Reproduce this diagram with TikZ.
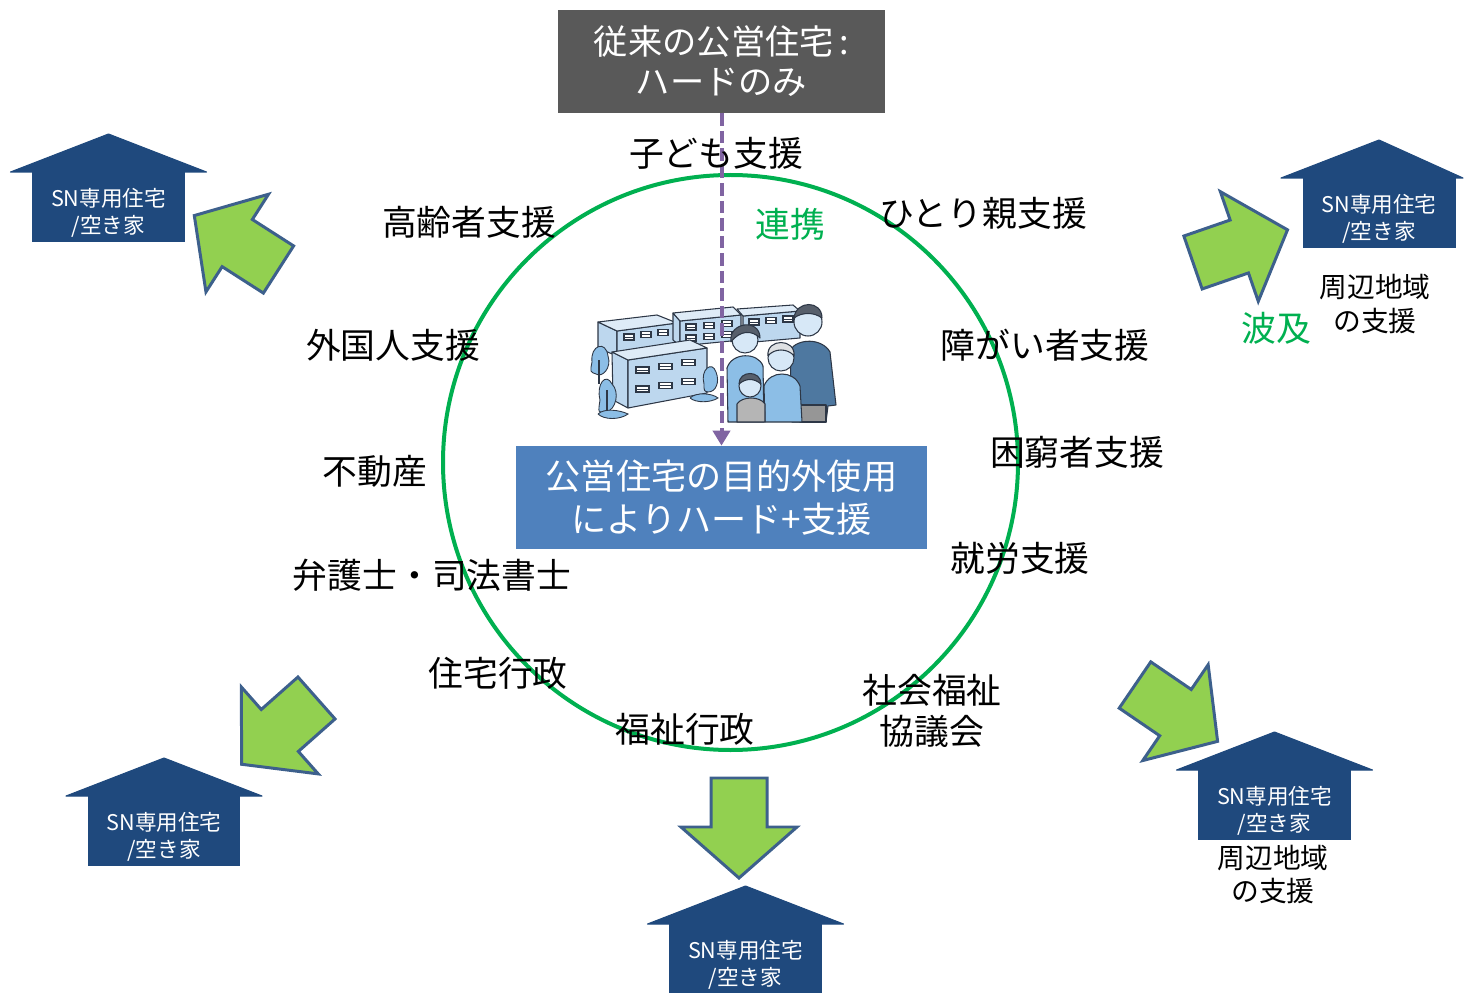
\documentclass[tikz,border=0pt]{standalone}
\usepackage{fontspec}
\setmainfont{Noto Sans CJK JP}
\usetikzlibrary{arrows.meta}

\definecolor{houseblue}{RGB}{31,73,125}
\definecolor{boxgray}{RGB}{89,89,89}
\definecolor{boxblue}{RGB}{79,129,189}
\definecolor{ringgreen}{RGB}{0,176,80}
\definecolor{arrowfill}{RGB}{146,208,80}
\definecolor{arrowline}{RGB}{61,96,140}
\definecolor{linkpurple}{RGB}{128,100,162}
\definecolor{bldfill}{RGB}{189,215,238}
\definecolor{bldtop}{RGB}{222,235,247}
\definecolor{bldline}{RGB}{45,55,70}
\definecolor{shirtdark}{RGB}{78,120,160}
\definecolor{shirtlight}{RGB}{140,190,230}
\definecolor{skin}{RGB}{215,232,247}
\definecolor{pantsgray}{RGB}{150,150,150}

\tikzset{
  lbl/.style={inner sep=0pt, align=center, font=\fontsize{19.8pt}{23.3pt}\selectfont},
  greenlbl/.style={lbl, text=ringgreen},
  smalllbl/.style={inner sep=0pt, align=center, font=\fontsize{15.8pt}{19.3pt}\selectfont},
  housebody/.style={fill=houseblue, inner sep=0pt,
    minimum width=3.06cm, minimum height=1.4cm},
  housetext/.style={text=white, inner sep=0pt, align=center,
    font=\fontsize{12.3pt}{15.3pt}\selectfont},
  roof/.style={fill=houseblue, draw=houseblue, line width=0.6pt, line join=round},
  blockarrow/.style={fill=arrowfill, draw=arrowline, line width=1.7pt, line join=miter},
  pics/bigarrow/.style={code={
    \draw[blockarrow] (0,-28) -- (49,-28) -- (49,-58) -- (100,0) -- (49,58)
      -- (49,28) -- (0,28) -- cycle;}},
  bld/.style={fill=bldfill, draw=bldline, line width=0.6pt, line join=round},
  bldroof/.style={fill=bldtop, draw=bldline, line width=0.6pt, line join=round},
  win/.style={fill=white, draw=bldline, line width=0.6pt},
  tree/.style={fill=shirtlight, draw=bldline, line width=0.5pt},
  person/.style={draw=bldline, line width=0.6pt, line join=round},
}

% house: name, body centre x, eaves y, left overhang, right overhang
\newcommand{\snhouse}[5]{%
  \draw[roof] (#2-#4,#3) -- (#2,#3-38) -- (#2+#5,#3) -- cycle;
  \node[housebody] (#1) at (#2,#3+35) {};
  \node[housetext] (#1-txt) at (#2,#3+41) {SN専用住宅\\/空き家};
}
% two-pane window
\newcommand{\pane}[3]{%
  \draw[win] (#1,#2) rectangle ++(#3,6);
  \draw[bldline, line width=0.5pt] (#1,#2+3) -- ++(#3,0);
}

\begin{document}
\begin{tikzpicture}[x=0.02cm, y=-0.02cm]
\useasboundingbox (0,0) rectangle (1471,993);

% ring of partners
\draw[ringgreen, line width=0.08cm] (730.5,462.5) circle [radius=287.5];

% ---------- buildings ----------
% back left block
\draw[bld] (598,322) -- (617,331) -- (617,356) -- (598,348) -- cycle;
\draw[bld] (617,331) -- (677,323) -- (677,348) -- (617,356) -- cycle;
\draw[bldroof] (598,322) -- (657,315) -- (677,323) -- (617,331) -- cycle;
\foreach \i in {0,1,2} \pane{624+\i*17}{334-\i*2.2}{10};
% middle block
\draw[bld] (673,313) -- (680,321) -- (680,346) -- (673,340) -- cycle;
\draw[bld] (680,321) -- (741,315) -- (741,340) -- (680,346) -- cycle;
\draw[bldroof] (673,313) -- (733,307) -- (741,315) -- (680,321) -- cycle;
\foreach \i in {0,1,2} {
  \pane{686+\i*18}{324-\i*1.8}{10}
  \pane{686+\i*18}{335-\i*1.8}{10}}
% right block
\draw[bld] (743,316) -- (800,311) -- (800,338) -- (743,343) -- cycle;
\draw[bldroof] (737,309) -- (793,305) -- (800,311) -- (743,316) -- cycle;
\foreach \i in {0,1,2} \pane{749+\i*17}{319-\i*1.5}{10};
% trees on the left
\draw[tree] (592,362) .. controls (590,345) and (606,340) .. (608,356)
  .. controls (612,368) and (602,378) .. (596,374) .. controls (590,372) .. (592,362);
\draw[bldline, line width=0.6pt] (599,360) -- (599,384);
% front block
\draw[bld] (612,352) -- (628,360) -- (628,408) -- (613,400) -- cycle;
\draw[bld] (628,360) -- (707,348) -- (707,393) -- (628,408) -- cycle;
\draw[bldroof] (612,352) -- (690,340) -- (707,348) -- (628,360) -- cycle;
\foreach \i in {0,1,2} {
  \pane{636+\i*23}{367-\i*3.6}{13}
  \pane{636+\i*23}{386-\i*3.6}{13}}
\draw[tree] (600,400) .. controls (596,384) and (606,372) .. (612,384)
  .. controls (620,392) and (616,410) .. (606,412) .. controls (598,413) .. (600,400);
\draw[bldline, line width=0.6pt] (607,390) -- (607,418);
\draw[tree] (598,414) .. controls (604,408) and (620,410) .. (628,414)
  .. controls (620,420) and (604,420) .. (598,414);
\draw[tree] (704,384) .. controls (700,370) and (712,360) .. (716,372)
  .. controls (720,382) and (716,392) .. (708,392) .. controls (704,391) .. (704,384);
\draw[tree] (690,398) .. controls (696,392) and (712,393) .. (718,398)
  .. controls (710,403) and (696,403) .. (690,398);

% ---------- family ----------
% father
\draw[person, fill=shirtdark] (792,422) -- (790,350) .. controls (798,338) and (822,338) .. (830,352)
  -- (836,405) -- (828,406) -- (826,422) -- cycle;
\draw[person, fill=pantsgray] (800,405) rectangle (826,422);
\draw[person, fill=skin] (808,322) circle [radius=14];
\draw[person, fill=bldline!80] (794,318) .. controls (796,300) and (822,300) .. (822,318)
  .. controls (814,312) and (802,312) .. (794,318);
% mother
\draw[person, fill=shirtlight] (728,422) -- (727,368) .. controls (732,352) and (758,352) .. (763,366)
  -- (764,422) -- cycle;
\draw[person, fill=skin] (745,340) circle [radius=13];
\draw[person, fill=bldline!80] (731,342) .. controls (728,322) and (760,318) .. (760,338)
  .. controls (752,330) and (740,330) .. (731,342);
% grandmother
\draw[person, fill=shirtlight] (765,422) -- (764,386) .. controls (770,370) and (794,370) .. (800,386)
  -- (802,422) -- cycle;
\draw[person, fill=skin] (781,358) circle [radius=13];
\draw[person, fill=white!85!bldline] (768,356) .. controls (766,338) and (796,338) .. (794,356)
  .. controls (788,348) and (774,348) .. (768,356);
% child
\draw[person, fill=pantsgray!70] (737,422) -- (737,404) .. controls (742,396) and (760,396) .. (765,404)
  -- (765,422) -- cycle;
\draw[person, fill=skin] (750,386) circle [radius=11];
\draw[person, fill=bldline!80] (739,384) .. controls (739,370) and (761,370) .. (761,384)
  .. controls (754,378) and (746,378) .. (739,384);

% ---------- central boxes ----------
\node[fill=boxgray, text=white, inner sep=0pt, minimum width=6.54cm, minimum height=2.06cm,
  align=center, font=\fontsize{19.5pt}{22.7pt}\selectfont] (old) at (721.5,61.5)
  {従来の公営住宅\,:\\ハードのみ};
\node[fill=boxblue, text=white, inner sep=0pt, minimum width=8.22cm, minimum height=2.06cm,
  align=center, font=\fontsize{20pt}{24.4pt}\selectfont] (new) at (721.5,497.5)
  {公営住宅の目的外使用\\によりハード+支援};
\draw[linkpurple, line width=0.08cm, dash pattern=on 0.25cm off 0.1cm,
  -{Triangle[length=0.3cm, width=0.34cm]}] (old.south) -- (new.north);

% ---------- partners ----------
\node[lbl] (kodomo) at (716,153) {子ども支援};
\node[lbl] (koreisha) at (469,222) {高齢者支援};
\node[lbl] (hitorioya) at (983,213) {ひとり親支援};
\node[lbl] (gaikoku) at (393,345) {外国人支援};
\node[lbl] (shogai) at (1045,345) {障がい者支援};
\node[lbl] (fudosan) at (375,471) {不動産};
\node[lbl] (konkyu) at (1077,452) {困窮者支援};
\node[lbl] (bengoshi) at (432,575) {弁護士・司法書士};
\node[lbl] (shuro) at (1020,558) {就労支援};
\node[lbl] (jutaku) at (498,673) {住宅行政};
\node[lbl] (shakyo) at (932,711) {社会福祉\\協議会};
\node[lbl] (fukushi) at (685,729) {福祉行政};
\node[greenlbl] (renkei) at (790,224) {連携};

% ---------- spreading out ----------
\pic[shift={(278.5,269.5)}, rotate=147.35] {bigarrow};
\pic[shift={(1193,262.5)}, rotate=19.07] {bigarrow};
\pic[shift={(316.5,698)}, rotate=221.5] {bigarrow};
\pic[shift={(1135,685)}, rotate=-34.3] {bigarrow};
\pic[shift={(739,778)}, rotate=-90] {bigarrow};

\snhouse{hTL}{108.5}{172}{98}{98}
\snhouse{hTR}{1379}{178}{98}{84}
\snhouse{hBL}{164}{796}{98}{98}
\snhouse{hBC}{745.5}{924}{98}{98}
\snhouse{hBR}{1274.5}{770}{98}{98}

\node[greenlbl] (hakyu) at (1276,328) {波及};
\node[smalllbl] (shuhenA) at (1375,304) {周辺地域\\の支援};
\node[smalllbl] (shuhenB) at (1273,874.5) {周辺地域\\の支援};
\end{tikzpicture}
\end{document}
